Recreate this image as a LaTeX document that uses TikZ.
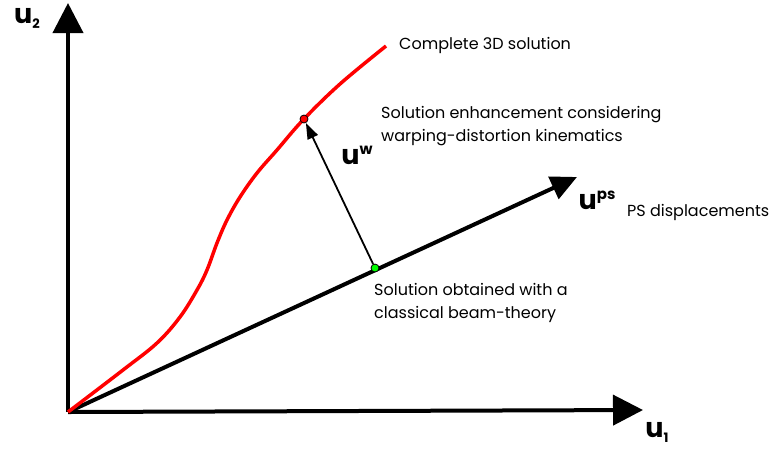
\documentclass[tikz,border=0pt]{standalone}
\usepackage{fontspec}
\setmainfont{Poppins}
\usetikzlibrary{arrows.meta}
\begin{document}
\begin{tikzpicture}[x=1pt,y=-1pt,
  axis/.style={line width=4pt,-{Triangle[length=30pt,width=30pt]}},
  psaxis/.style={line width=4pt,-{Triangle[length=26pt,width=24pt]}},
  curve/.style={red,line width=3.5pt},
  lbl/.style={font=\fontsize{16}{23.5}\selectfont,anchor=west,inner sep=0pt,align=left},
  biglbl/.style={font=\fontsize{27}{30}\selectfont\bfseries,inner sep=0pt},
  dot/.style={circle,draw=black,line width=0.8pt,minimum size=8pt,inner sep=0pt}]
\useasboundingbox (0,0) rectangle (781,451);
\coordinate (O) at (68,412);
\coordinate (Y) at (68,3);
\coordinate (X) at (643,410);
\coordinate (P) at (577,177);
\draw[axis] (O) -- (Y);
\draw[axis] (O) -- (X);
\draw[psaxis] (O) -- (P);
\draw[curve] plot[smooth,tension=0.6] coordinates {(O) (123,370) (157,343) (180,317) (197,290) (207,270) (217,243) (227,220) (240,197) (257,173) (277,150) (303,120) (340,84) (386,46)};
\node[dot,fill=green] (g) at (375,268) {};
\node[dot,fill=red] (r) at (304,119) {};
\draw[line width=1.8pt,-{Triangle[length=16pt,width=11pt]}] (g) -- (r);
\node[biglbl] (u2) at (27,18) {u\raisebox{-5pt}{\fontsize{13}{13}\selectfont 2}};
\node[biglbl] (u1) at (657,432) {u\raisebox{-5pt}{\fontsize{13}{13}\selectfont 1}};
\node[biglbl] (uw) at (357,155) {u\raisebox{10pt}{\fontsize{15}{15}\selectfont w}};
\node[biglbl] (ups) at (597,200) {u\raisebox{10pt}{\fontsize{15}{15}\selectfont ps}};
\node[lbl] (tC) at (399,45) {Complete 3D solution};
\node[lbl] (tE) at (381,126) {Solution enhancement considering\\warping-distortion kinematics};
\node[lbl] (tS) at (374,303) {Solution obtained with a\\classical beam-theory};
\node[lbl] (tP) at (627,212) {PS displacements};
\end{tikzpicture}
\end{document}
